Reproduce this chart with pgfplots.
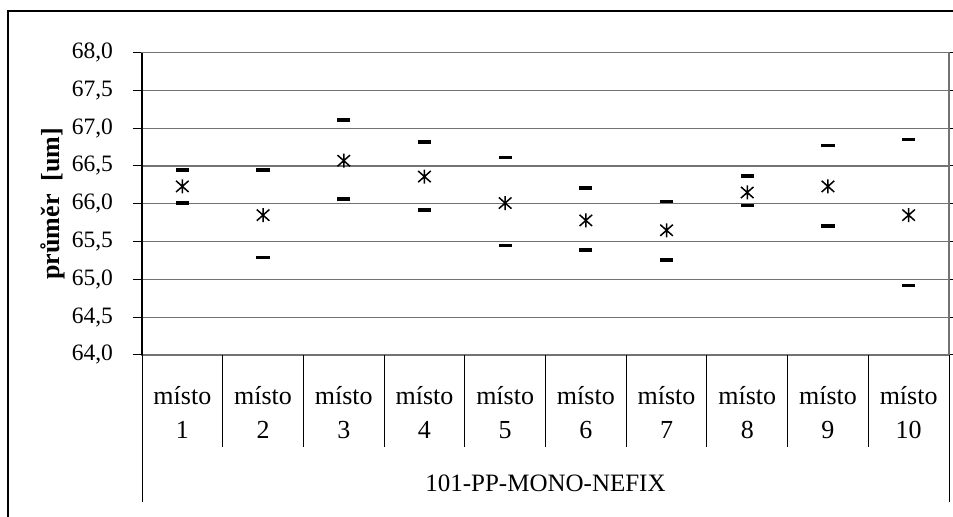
\documentclass[border=0pt]{standalone}
\usepackage{pgfplots}
\pgfplotsset{compat=1.18}
\usepackage{fontspec}
\setmainfont{Liberation Serif}
\pgfdeclareplotmark{xstar}{%
  \pgfpathmoveto{\pgfqpoint{0pt}{\pgfplotmarksize}}%
  \pgfpathlineto{\pgfqpoint{0pt}{-\pgfplotmarksize}}%
  \pgfpathmoveto{\pgfqpoint{-0.9\pgfplotmarksize}{-0.8\pgfplotmarksize}}%
  \pgfpathlineto{\pgfqpoint{0.9\pgfplotmarksize}{0.8\pgfplotmarksize}}%
  \pgfpathmoveto{\pgfqpoint{-0.9\pgfplotmarksize}{0.8\pgfplotmarksize}}%
  \pgfpathlineto{\pgfqpoint{0.9\pgfplotmarksize}{-0.8\pgfplotmarksize}}%
  \pgfusepathqstroke}
\begin{document}
\fontsize{13pt}{17pt}\selectfont
\begin{tikzpicture}[font=\fontsize{13pt}{17pt}\selectfont]
\useasboundingbox (0,0) rectangle (476.5pt,258.5pt);
\draw[black, line width=1.4pt] (4pt,0pt) -- (4pt,253pt) -- (476.5pt,253pt);
\begin{axis}[
  at={(71pt,81pt)}, anchor=south west,
  scale only axis, width=403.5pt, height=151.2pt,
  xmin=0.5, xmax=10.5, ymin=64, ymax=68,
  ytick={64,64.5,...,68},
  ymajorgrids, major grid style={draw=gray!90!black, line width=0.6pt},
  axis line style={draw=gray!90!black, line width=0.8pt},
  tick align=outside, y tick style={black, line width=0.5pt}, major tick length=4.5pt,
  yticklabel={\fontsize{11.75pt}{14pt}\selectfont\pgfmathprintnumber[fixed,fixed zerofill,precision=1,use comma,assume math mode=true]{\tick}},
  yticklabel style={xshift=-5.5pt},
  xtick={1,...,10},
  x tick style={draw=none},
  xticklabels={místo\\1,místo\\2,místo\\3,místo\\4,místo\\5,místo\\6,místo\\7,místo\\8,místo\\9,místo\\10},
  xticklabel style={align=center, anchor=base, yshift=-37.5pt},
  clip=false,
]
\addplot[only marks, mark=-, mark size=3.3pt, mark options={line width=1.8pt}] coordinates {
(1,66.45) (2,66.45) (3,67.11) (4,66.82) (5,66.61) (6,66.21) (7,66.03) (8,66.37) (9,66.77) (10,66.85)};
\addplot[only marks, mark=-, mark size=3.3pt, mark options={line width=1.8pt}] coordinates {
(1,66.01) (2,65.29) (3,66.06) (4,65.92) (5,65.45) (6,65.39) (7,65.26) (8,65.98) (9,65.71) (10,64.92)};
\addplot[only marks, mark=xstar, mark size=3.5pt, mark options={line width=0.75pt}] coordinates {
(1,66.23) (2,65.85) (3,66.57) (4,66.36) (5,66.01) (6,65.78) (7,65.65) (8,66.15) (9,66.23) (10,65.85)};
\draw[black, line width=0.7pt] (axis description cs:0,0) -- (axis description cs:0,1);
\pgfplotsinvokeforeach{1.5,2.5,3.5,4.5,5.5,6.5,7.5,8.5,9.5}{
  \draw[black, line width=0.5pt] (axis cs:#1,64) -- ([yshift=-46pt]axis cs:#1,64);
}
\draw[black, line width=0.5pt] (axis cs:0.5,64) -- ([yshift=-73.5pt]axis cs:0.5,64);
\draw[black, line width=0.5pt] (axis cs:10.5,64) -- ([yshift=-73.5pt]axis cs:10.5,64);
\node[anchor=base, font=\fontsize{12.5pt}{15pt}\selectfont] at ([yshift=-68.3pt]axis cs:5.5,64) {101-PP-MONO-NEFIX};
\node[rotate=90, anchor=center, font=\fontsize{13pt}{15pt}\selectfont\bfseries] at ([xshift=-44.5pt]axis description cs:0,0.5) {průměr\ \ [um]};
\end{axis}
\end{tikzpicture}
\end{document}
